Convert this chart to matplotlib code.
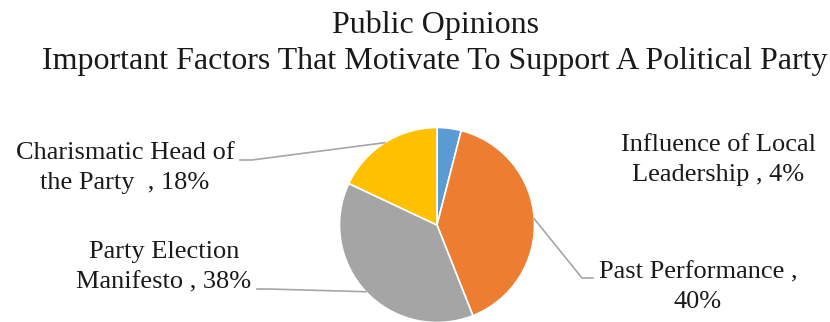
import matplotlib
matplotlib.use("Agg")
import matplotlib.pyplot as plt
import numpy as np

# ---- data ----
categories = ["Influence of Local Leadership", "Past Performance",
              "Party Election Manifesto", "Charismatic Head of the Party"]
values = [4, 40, 38, 18]
label_lines = [["Influence of Local", "Leadership , 4%"],
               ["Past Performance ,", "40%"],
               ["Party Election", "Manifesto , 38%"],
               ["Charismatic Head of", "the Party  , 18%"]]
colors = ["#5B9BD5", "#ED7D31", "#A5A5A5", "#FFC000"]
title_lines = ["Public Opinions",
               "Important Factors That Motivate To Support A Political Party"]

W, H = 830, 322
plt.rcParams['font.family'] = ['Liberation Serif', 'DejaVu Serif']
fig = plt.figure(figsize=(W / 100, H / 100), dpi=100)

cx, cy, R = 437.0, 225.0, 97.5  # pie centre / radius in px (from top)
ax = fig.add_axes([(cx - R) / W, (H - cy - R) / H, 2 * R / W, 2 * R / H])

wedges, _ = ax.pie(values, colors=colors, startangle=90, counterclock=False,
                   radius=1, wedgeprops=dict(edgecolor='white', linewidth=1.2))
ax.set_xlim(-1, 1)
ax.set_ylim(-1, 1)
ax.set_aspect('equal')
ax.axis('off')
for w in wedges:
    w.set_clip_on(False)


def p2d(px, py):
    return ((px - cx) / R, (cy - py) / R)


# label centre x and first-line baseline (px), line step
label_pos = [(718, 151), (698, 278), (164, 258), (125, 159)]
line_step = 30.5
elbows = [None, [(582, 278), (593, 278)], [(268, 289), (257, 289)],
          [(252, 160), (240, 160)]]

for w, lines, pos, elb in zip(wedges, label_lines, label_pos, elbows):
    for i, ln in enumerate(lines):
        x, y = p2d(pos[0], pos[1] + i * line_step)
        ax.text(x, y, ln, ha='center', va='baseline', fontsize=19,
                color='#1a1a1a', clip_on=False)
    if elb is not None:
        ang = np.deg2rad((w.theta1 + w.theta2) / 2)
        pts = [(np.cos(ang), np.sin(ang))] + [p2d(*e) for e in elb]
        xs, ys = zip(*pts)
        ax.plot(xs, ys, color='#A6A6A6', lw=1.2, clip_on=False)

fig.text(435 / W, 1 - 33 / H, title_lines[0], ha='center', va='baseline',
         fontsize=23, color='#1a1a1a')
fig.text(435 / W, 1 - 69 / H, title_lines[1], ha='center', va='baseline',
         fontsize=23, color='#1a1a1a')

fig.savefig("out.png", dpi=100)
